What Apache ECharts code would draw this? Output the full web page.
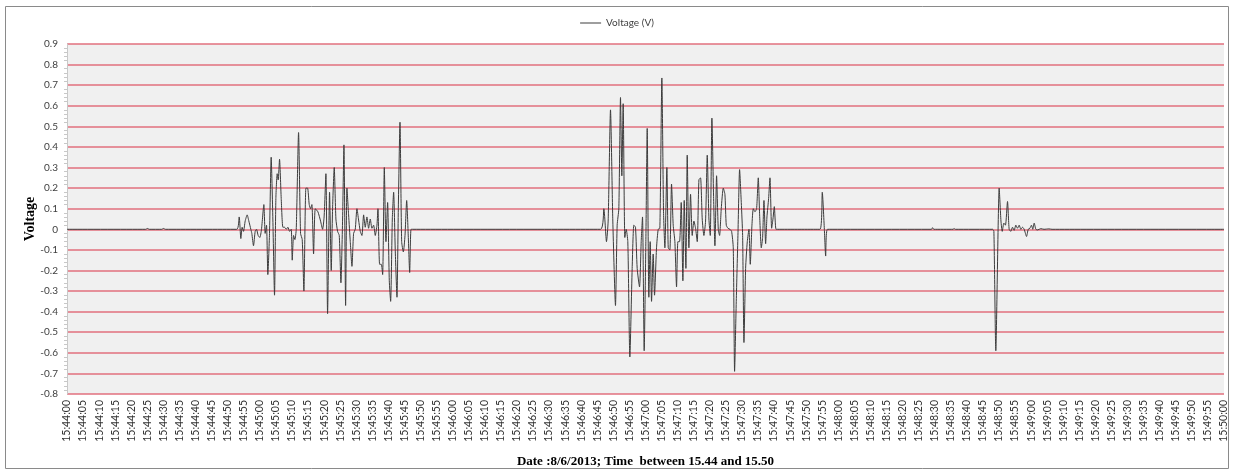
<!DOCTYPE html>
<html>
<head>
<meta charset="utf-8">
<script src="https://cdn.jsdelivr.net/npm/echarts@6/dist/echarts.min.js"></script>
<style>
  html, body { margin: 0; padding: 0; background: #ffffff; }
  #chart { width: 1234px; height: 473px; }
</style>
</head>
<body>
<div id="chart"></div>
<script>
// Recording start (axis origin) and span, in seconds
const startClock = { h: 15, m: 44, s: 0 };
const spanSeconds = 360;
const tickStep = 5;

// Voltage samples as [seconds after 15:44:00, volts]
const quietLead = [
  [0, 0], [24.5, 0], [25, 0.004], [25.6, 0], [29.5, 0], [30, 0.004], [30.6, 0], [52.8, 0]
];

const burstFirst = [
  [53.57, 0.06], [54.09, -0.045], [54.5, 0.01], [54.92, -0.01], [55.44, 0.04], [56.06, 0.07],
  [56.58, 0.04], [57.2, 0.0], [57.51, -0.02], [58.03, -0.08], [58.55, -0.01], [58.96, 0.0],
  [59.48, -0.03], [60.0, -0.04], [60.52, 0.0], [61.25, 0.12], [61.66, -0.02], [62.08, 0.02],
  [62.49, -0.22], [63.01, -0.02], [63.53, 0.35], [64.05, 0.05], [64.57, -0.32], [64.99, 0.15],
  [65.4, 0.27], [65.71, 0.24], [66.13, 0.34], [66.65, 0.15], [67.17, 0.01], [67.69, 0.01],
  [68.21, 0.0], [68.73, 0.01], [69.25, -0.01], [69.77, 0.0], [70.08, -0.15], [70.5, -0.03],
  [70.91, -0.05], [71.33, 0.0], [72.05, 0.47], [72.67, -0.02], [73.19, -0.05], [73.71, -0.30],
  [74.33, 0.2], [74.85, 0.2], [75.37, 0.12], [75.78, 0.1], [76.2, 0.12], [76.72, -0.12],
  [77.24, 0.1], [78.07, 0.085], [78.9, 0.04], [79.52, 0.0], [80.0, 0.06], [80.56, 0.27],
  [81.08, -0.41], [81.7, 0.18], [82.22, -0.2], [82.63, 0.1], [83.15, 0.3], [83.67, 0.05],
  [84.19, -0.01], [84.71, -0.03], [85.23, -0.26], [85.75, 0.05], [86.17, 0.41], [86.69, -0.37],
  [87.1, 0.2], [87.62, 0.07], [88.14, -0.06], [88.66, -0.18], [89.17, -0.02], [89.69, 0.0],
  [90.21, 0.1], [90.73, 0.045], [91.25, -0.01], [91.77, -0.03], [92.29, 0.07], [92.8, 0.01],
  [93.32, 0.06], [93.84, 0.005], [94.36, 0.05], [94.88, 0.005], [95.4, 0.02], [95.92, -0.03],
  [96.44, 0.02], [96.75, 0.1], [97.27, -0.17], [97.79, -0.17], [98.21, -0.22], [98.73, 0.3],
  [99.24, -0.06], [99.76, 0.13], [100.28, -0.25], [100.7, -0.35], [101.22, 0.05], [101.63, 0.18],
  [102.15, -0.11], [102.67, -0.33], [103.09, 0.1], [103.61, 0.52], [104.13, -0.06], [104.65, -0.11],
  [105.17, -0.03], [105.69, 0.14], [106.2, -0.04], [106.62, -0.21], [107.04, 0.0]
];

const quietMiddle = [[107.6, 0], [166.0, 0]];

const burstSecond = [
  [167.03, 0.1], [167.86, -0.06], [168.38, 0.04], [169.11, 0.58], [169.83, 0.04], [170.66, -0.37],
  [171.18, 0.02], [171.7, 0.1], [172.22, 0.64], [172.64, 0.26], [173.05, 0.61], [173.57, -0.04],
  [173.99, 0.0], [174.5, -0.06], [175.13, -0.62], [175.85, -0.19], [176.37, 0.02], [176.89, 0.01],
  [177.41, -0.19], [178.14, -0.28], [178.66, -0.06], [179.07, 0.06], [179.59, -0.59], [180.11, -0.06],
  [180.53, 0.49], [181.04, -0.33], [181.46, -0.06], [181.88, -0.35], [182.39, -0.12], [182.81, -0.32],
  [183.43, -0.09], [183.95, 0.0], [184.47, 0.005], [185.09, 0.735], [185.61, 0.085], [186.03, -0.09],
  [186.65, 0.3], [187.07, -0.09], [187.58, -0.1], [188.1, 0.22], [188.62, 0.02], [189.14, -0.06],
  [189.66, -0.28], [190.08, -0.06], [190.6, -0.06], [191.11, 0.13], [191.63, -0.25], [192.05, 0.14],
  [192.57, -0.19], [192.98, 0.36], [193.5, -0.09], [194.02, 0.17], [194.54, -0.03], [195.06, 0.04],
  [195.58, 0.005], [196.1, -0.06], [196.62, 0.24], [197.13, 0.25], [197.65, 0.05], [198.17, -0.03],
  [198.69, 0.04], [199.21, 0.36], [199.73, 0.05], [200.15, -0.03], [200.66, 0.54], [201.18, 0.16],
  [201.6, -0.08], [202.12, 0.26], [202.64, 0.0], [203.05, -0.03], [203.57, 0.1], [204.2, 0.2],
  [204.71, 0.17], [205.13, 0.02], [205.65, 0.005], [206.27, 0.0], [206.79, -0.01], [207.31, -0.09],
  [207.72, -0.69], [208.24, -0.35], [208.76, -0.03], [209.28, 0.29], [209.8, 0.13], [210.22, -0.03],
  [210.63, -0.55], [211.15, -0.19], [211.67, -0.06], [212.19, 0.0], [212.6, -0.17], [213.12, 0.02],
  [213.54, 0.1], [214.06, 0.085], [214.57, 0.1], [215.09, 0.25], [215.51, 0.07], [216.03, -0.09],
  [216.44, -0.04], [216.86, 0.14], [217.38, -0.07], [217.79, 0.06], [218.31, 0.15], [218.73, 0.25],
  [219.25, 0.005], [219.66, 0.05], [220.08, 0.11], [220.6, 0.0]
];

const spikeThird = [
  [221.2, 0], [234.3, 0], [235.0, 0.18], [235.65, 0], [236.06, -0.13], [236.6, 0],
  [269.0, 0], [269.3, 0.008], [269.7, 0], [275.7, 0], [276.0, 0.004], [276.4, 0]
];

const spikeFourth = [
  [288.0, 0], [288.4, -0.01], [289.0, -0.59], [290.05, 0.2], [290.6, 0.04], [291.0, -0.01],
  [291.5, 0.03], [292.0, 0.02], [292.64, 0.135], [293.15, 0.0], [293.67, -0.01], [294.19, 0.01],
  [294.71, -0.005], [295.23, 0.02], [295.75, 0.005], [296.27, 0.02], [296.79, 0.0], [297.31, 0.01],
  [297.83, 0.0], [298.56, -0.035], [299.08, 0.0], [299.6, 0.005], [300.1, 0.02], [300.5, 0.0],
  [300.94, 0.03], [301.46, 0.0], [302.0, -0.003], [303.0, 0.003], [304.0, 0.0], [305.5, 0.002],
  [306.5, 0.0], [360, 0]
];

const seriesName = 'Voltage (V)';
const yAxisTitle = 'Voltage';
const xAxisTitle = 'Date :8/6/2013; Time  between 15.44 and 15.50';

const voltage = [].concat(quietLead, burstFirst, quietMiddle, burstSecond, spikeThird, spikeFourth);

function pad(n) { return (n < 10 ? '0' : '') + n; }
function clockLabel(sec) {
  const total = startClock.h * 3600 + startClock.m * 60 + startClock.s + Math.round(sec);
  const h = Math.floor(total / 3600);
  const m = Math.floor((total % 3600) / 60);
  const s = total % 60;
  return h + ':' + pad(m) + ':' + pad(s);
}

const chart = echarts.init(document.getElementById('chart'), null, { renderer: 'canvas' });

chart.setOption({
  backgroundColor: '#ffffff',
  animation: false,
  graphic: [{
    type: 'rect',
    shape: { x: 5.5, y: 6.5, width: 1223, height: 462 },
    style: { fill: 'none', stroke: '#8a8a8a', lineWidth: 1 },
    silent: true
  }],
  legend: {
    top: 13,
    left: 'center',
    icon: 'rect',
    itemWidth: 21,
    itemHeight: 1,
    itemGap: 10,
    textStyle: { fontFamily: 'Lato', fontSize: 10, color: '#404040' },
    data: [seriesName]
  },
  grid: {
    left: 67, right: 10, top: 44, bottom: 76,
    show: true,
    backgroundColor: '#f0f0f0',
    borderWidth: 0
  },
  xAxis: {
    type: 'value',
    min: 0,
    max: spanSeconds,
    interval: tickStep,
    name: xAxisTitle,
    nameLocation: 'middle',
    nameGap: 61,
    nameTextStyle: { fontFamily: 'Liberation Serif', fontWeight: 'bold', fontSize: 13, color: '#000000' },
    axisLine: { show: false },
    axisTick: { show: false },
    splitLine: { show: false },
    axisLabel: {
      rotate: 90,
      margin: 6,
      fontFamily: 'Lato',
      fontSize: 10.5,
      color: '#333333',
      showMinLabel: true,
      showMaxLabel: true,
      hideOverlap: false,
      formatter: clockLabel
    }
  },
  yAxis: {
    type: 'value',
    min: -0.8,
    max: 0.9,
    interval: 0.1,
    name: yAxisTitle,
    nameLocation: 'middle',
    nameRotate: 90,
    nameGap: 30,
    nameMoveOverlap: false,
    nameTextStyle: { fontFamily: 'Liberation Serif', fontWeight: 'bold', fontSize: 14, color: '#000000' },
    axisLine: { show: true, lineStyle: { color: '#c8c8c8', width: 1 } },
    axisTick: { show: false },
    minorTick: { show: true, splitNumber: 5, length: 3, lineStyle: { color: '#c8c8c8' } },
    axisLabel: {
      margin: 9,
      fontFamily: 'Lato',
      fontSize: 10,
      color: '#404040',
      formatter: function (v) {
        const r = Math.round(v * 10) / 10;
        return r === 0 ? '0' : r.toFixed(1);
      }
    },
    splitLine: { show: true, lineStyle: { color: '#e2707e', width: 1.6 } }
  },
  series: [{
    name: seriesName,
    type: 'line',
    data: voltage,
    showSymbol: false,
    smooth: 0.2,
    itemStyle: { color: '#3c3c3c' },
    lineStyle: { color: '#3c3c3c', width: 1 }
  }]
});
</script>
</body>
</html>
